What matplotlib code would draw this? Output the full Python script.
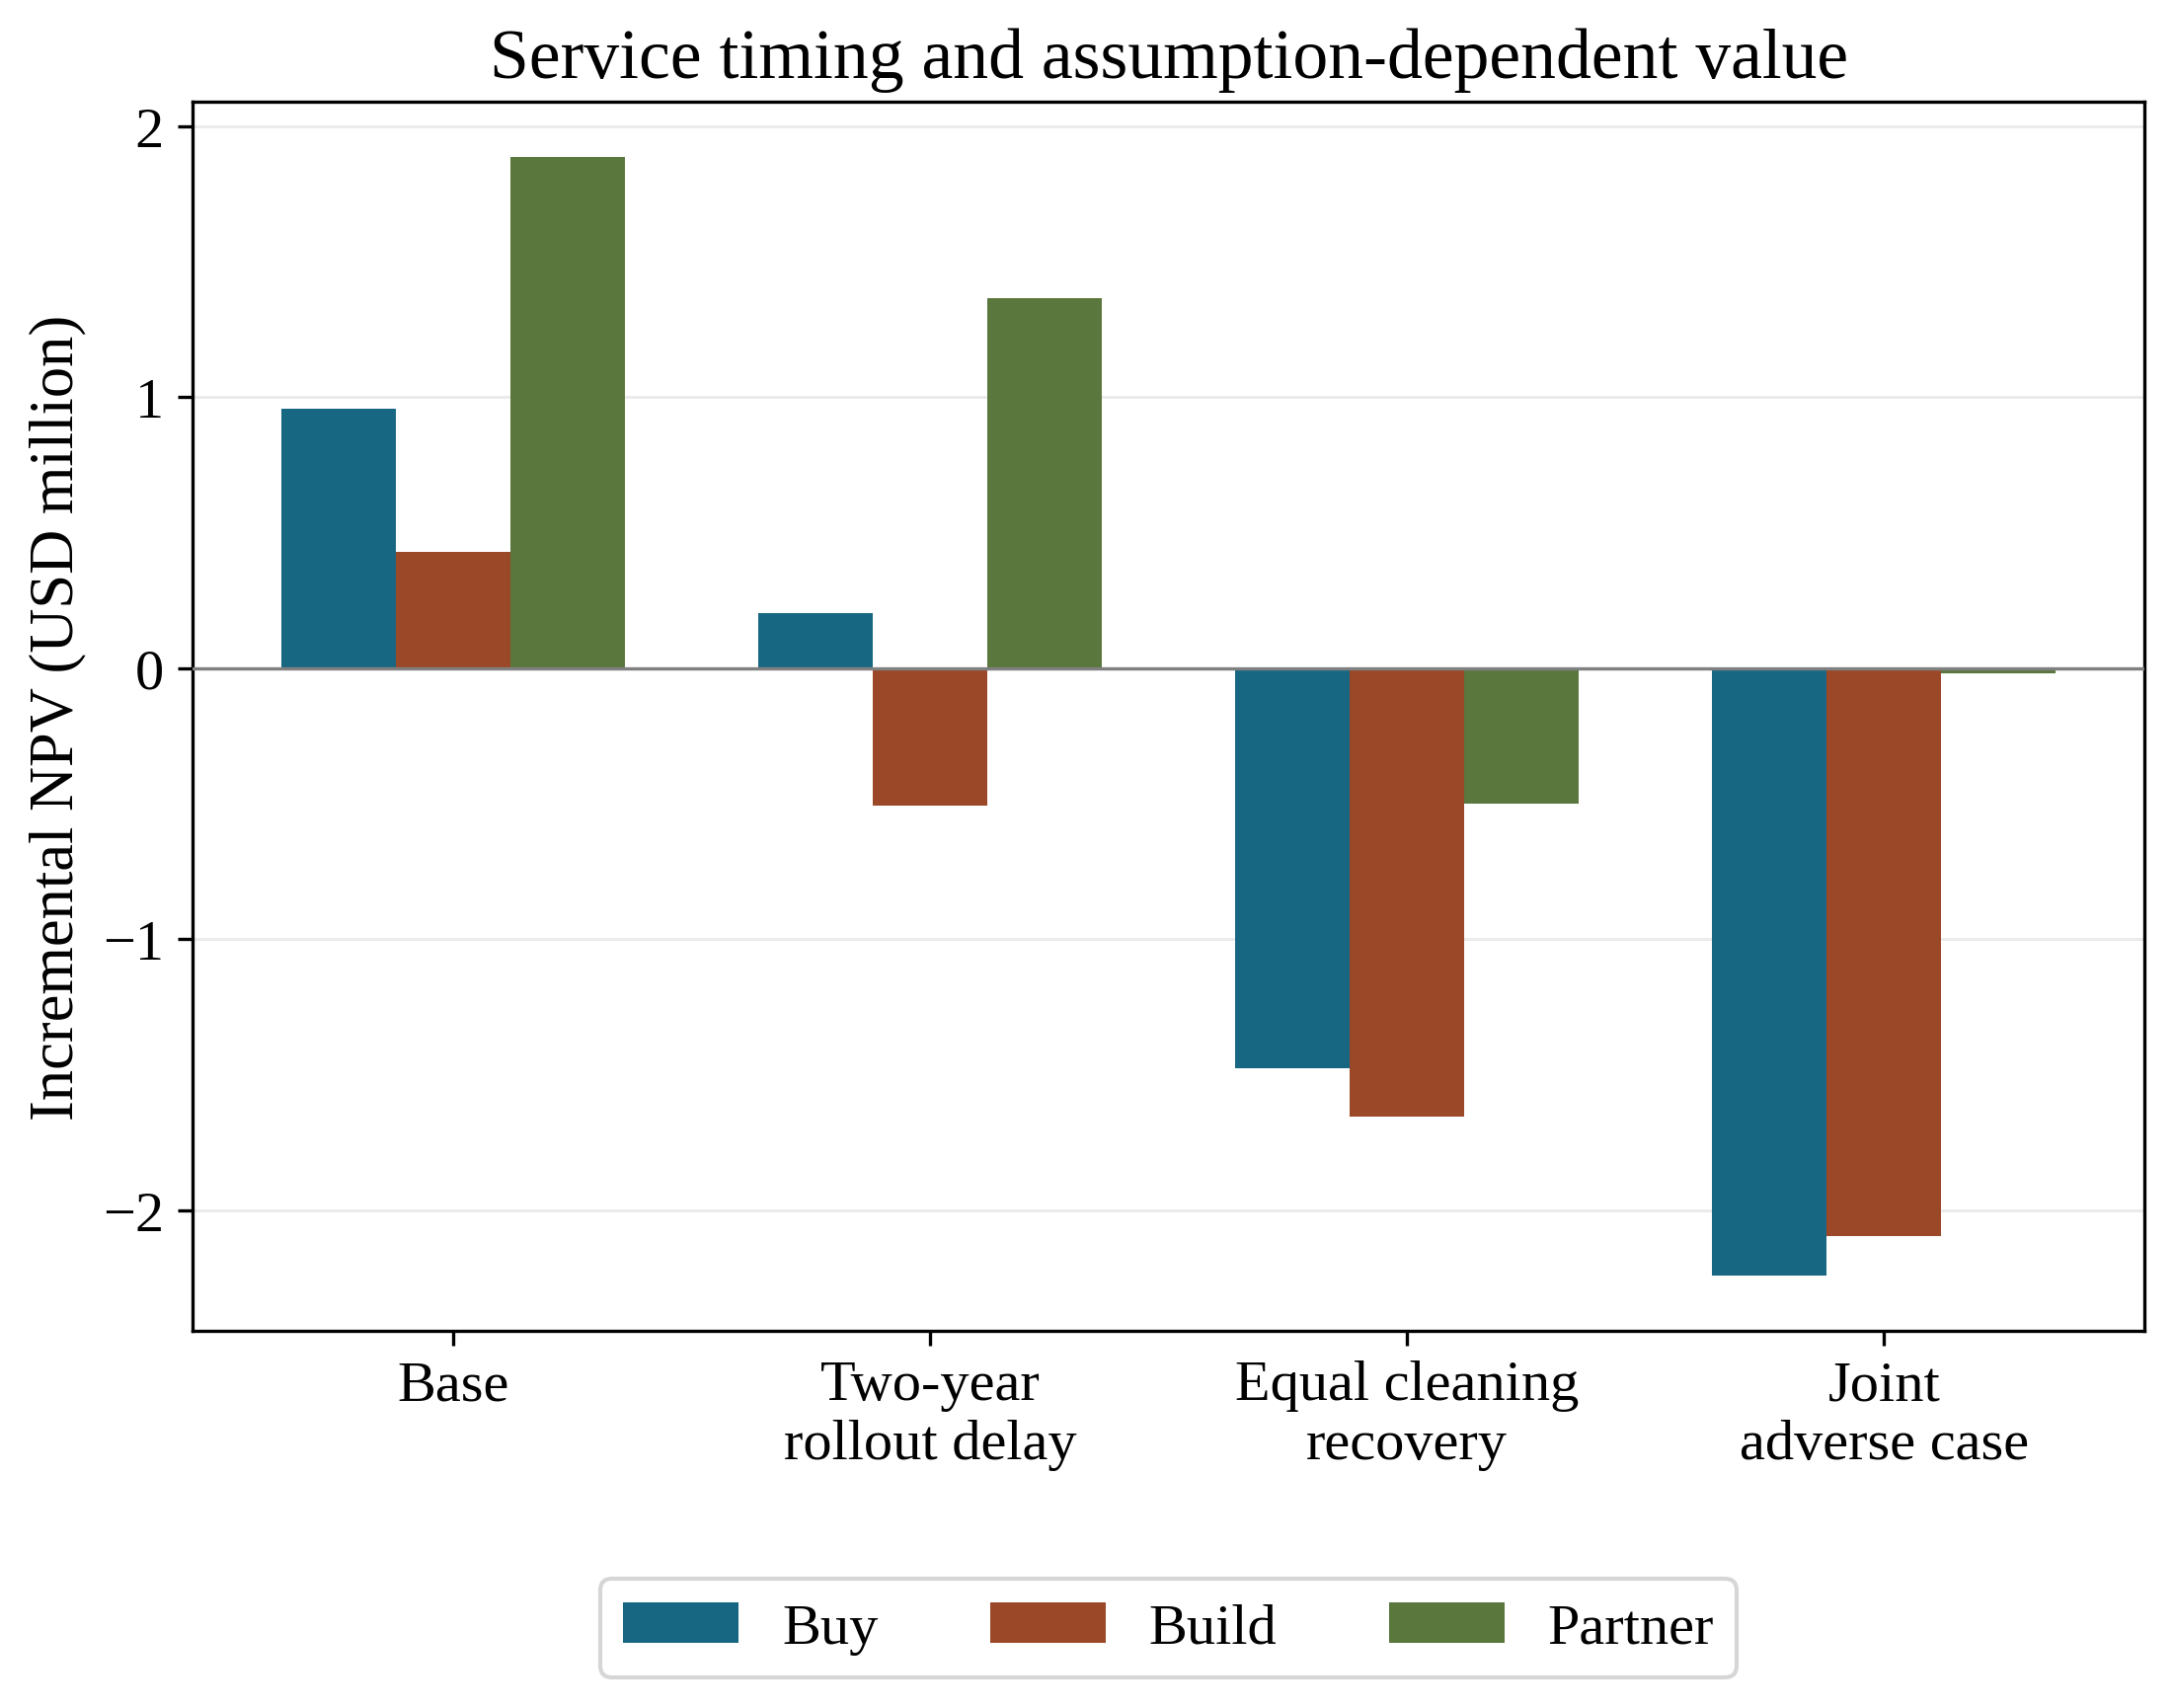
import matplotlib
matplotlib.use("Agg")
import matplotlib.pyplot as plt
import numpy as np

plt.rcParams['font.family'] = ['Liberation Serif', 'DejaVu Serif']

categories = ["Base", "Two-year\nrollout delay", "Equal cleaning\nrecovery", "Joint\nadverse case"]
series_names = ["Buy", "Build", "Partner"]
buy = [0.956, 0.202, -1.474, -2.239]
build = [0.429, -0.506, -1.653, -2.093]
partner = [1.884, 1.365, -0.500, -0.020]
colors = ["#176782", "#9B4828", "#5A773D"]

fig = plt.figure(figsize=(2201 / 300, 1731 / 300), dpi=300)
ax = fig.add_axes([0.0886, 0.2205, 0.8983, 0.7195])

x = np.arange(len(categories))
width = 0.24
for i, (name, vals) in enumerate(zip(series_names, [buy, build, partner])):
    ax.bar(x + (i - 1) * width, vals, width, label=name, color=colors[i], zorder=2)

ax.axhline(0, color="#808080", linewidth=0.8, zorder=3)
ax.yaxis.grid(True, color="#e6e6e6", linewidth=0.7, alpha=0.8, zorder=0)
ax.set_axisbelow(True)
ax.set_xticks(x)
ax.set_xticklabels(categories, fontsize=14)
ax.set_yticks([-2, -1, 0, 1, 2])
ax.tick_params(axis='y', labelsize=14)
ax.set_ylabel("Incremental NPV (USD million)", fontsize=15)
ax.set_title("Service timing and assumption-dependent value", fontsize=17.2)

leg = ax.legend(loc="center", bbox_to_anchor=(0.5, -0.2416), ncol=3, fontsize=14,
                frameon=True, edgecolor="#cccccc", handlelength=2.0, columnspacing=1.95,
                handletextpad=0.75, borderpad=0.4, fancybox=True)
leg.get_frame().set_linewidth(1.0)

fig.savefig("out.png", dpi=300)
